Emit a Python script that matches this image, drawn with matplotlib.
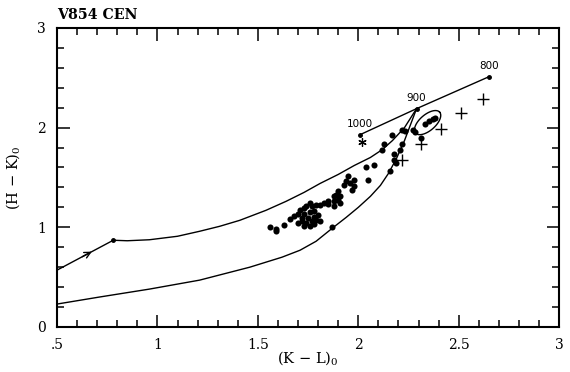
import numpy as np
import matplotlib
matplotlib.use("Agg")
import matplotlib.pyplot as plt
from matplotlib.ticker import MultipleLocator, FixedLocator, FixedFormatter

plt.rcParams['font.family'] = ['DejaVu Serif']
plt.rcParams['mathtext.fontset'] = 'dejavuserif'

# observed colours, (K-L)0 vs (H-K)0
obs_kl = [1.56, 1.59, 1.59, 1.63, 1.68, 1.70, 1.73, 1.74, 1.77, 1.79,
          1.73, 1.76, 1.78, 1.72, 1.74, 1.77, 1.79, 1.73, 1.76, 1.81,
          1.83, 1.85, 1.87, 1.88, 1.81, 1.85, 1.88, 1.88, 1.91, 1.89,
          1.90, 1.91, 1.93, 1.94, 1.96, 1.98, 1.98, 1.97, 1.95, 2.05,
          2.04, 2.08, 2.12, 2.13, 2.17, 2.22, 2.23, 2.27, 2.28, 2.22,
          2.21, 2.18, 2.18, 2.19, 2.16, 2.31, 2.33, 2.35, 2.37, 2.38,
          1.75, 1.78, 1.71, 1.76, 1.70, 1.90, 1.80, 1.66, 1.72, 1.78]
obs_hk = [1.00, 0.98, 0.96, 1.02, 1.11, 1.04, 1.19, 1.21, 1.21, 1.22,
          1.13, 1.15, 1.16, 1.06, 1.04, 1.06, 1.07, 1.01, 1.01, 1.06,
          1.24, 1.26, 1.00, 1.31, 1.22, 1.23, 1.26, 1.21, 1.24, 1.32,
          1.36, 1.31, 1.42, 1.46, 1.44, 1.47, 1.41, 1.37, 1.51, 1.47,
          1.60, 1.62, 1.78, 1.84, 1.93, 1.98, 1.97, 1.98, 1.96, 1.84,
          1.78, 1.74, 1.67, 1.64, 1.56, 1.90, 2.04, 2.07, 2.09, 2.10,
          1.09, 1.10, 1.17, 1.24, 1.13, 1.27, 1.12, 1.08, 1.09, 1.03]

# plus markers
plus_kl = [2.22, 2.31, 2.41, 2.51, 2.62]
plus_hk = [1.67, 1.84, 1.99, 2.15, 2.29]

# asterisk
star_kl = [2.02]
star_hk = [1.86]

# blackbody line with temperatures
bb_kl = [2.01, 2.29, 2.65]
bb_hk = [1.93, 2.19, 2.51]
bb_labels = ['1000', '900', '800']

# reddening vector (straight part with arrow)
red_kl = [0.5, 0.78]
red_hk = [0.57, 0.87]

# upper envelope curve
upper_kl = [0.78, 0.85, 0.96, 1.10, 1.21, 1.31, 1.41, 1.54, 1.64, 1.73,
            1.81, 1.90, 1.98, 2.06, 2.12, 2.17, 2.23, 2.29]
upper_hk = [0.87, 0.865, 0.875, 0.91, 0.96, 1.01, 1.07, 1.17, 1.26, 1.35,
            1.44, 1.53, 1.62, 1.70, 1.78, 1.87, 2.00, 2.19]

# lower envelope curve
lower_kl = [0.5, 0.71, 0.96, 1.21, 1.46, 1.62, 1.71, 1.79, 1.87, 1.94,
            2.00, 2.06, 2.11, 2.15, 2.19, 2.23, 2.26, 2.29]
lower_hk = [0.23, 0.30, 0.38, 0.47, 0.60, 0.70, 0.77, 0.86, 0.99, 1.10,
            1.20, 1.31, 1.42, 1.54, 1.69, 1.87, 2.03, 2.19]

# ellipse around the reddest points
ell_center = (2.345, 2.05)
ell_major = (0.060, 0.105)
ell_minor = (-0.026, 0.060)

xticks = [0.5, 1, 1.5, 2, 2.5, 3]
xticklabels = ['.5', '1', '1.5', '2', '2.5', '3']
yticks = [0, 1, 2, 3]
yticklabels = ['0', '1', '2', '3']

fig = plt.figure(figsize=(5.7, 3.72), dpi=100)
ax = fig.add_axes([0.1, 0.121, 0.881, 0.804])

lw = 1.0
ax.plot(red_kl, red_hk, color='black', lw=lw)
ax.plot(upper_kl, upper_hk, color='black', lw=lw)
ax.plot(lower_kl, lower_hk, color='black', lw=lw)
ax.plot(red_kl[1:], red_hk[1:], 'o', color='black', ms=2.5)

# arrow head on the reddening segment
f0, f1 = 0.45, 0.62
ax.annotate('', xy=(red_kl[0] + f1 * (red_kl[1] - red_kl[0]),
                    red_hk[0] + f1 * (red_hk[1] - red_hk[0])),
            xytext=(red_kl[0] + f0 * (red_kl[1] - red_kl[0]),
                    red_hk[0] + f0 * (red_hk[1] - red_hk[0])),
            arrowprops=dict(arrowstyle='->', lw=lw, color='black',
                            mutation_scale=11, shrinkA=0, shrinkB=0))

ax.plot(bb_kl, bb_hk, '-o', color='black', lw=lw, ms=2.5)
for x, y, s in zip(bb_kl, bb_hk, bb_labels):
    ax.annotate(s, (x, y), xytext=(0, 4), textcoords='offset points',
                ha='center', va='bottom', fontsize=7.5, family='DejaVu Sans')

t = np.linspace(0, 2 * np.pi, 120)
ex = ell_center[0] + np.cos(t) * ell_major[0] + np.sin(t) * ell_minor[0]
ey = ell_center[1] + np.cos(t) * ell_major[1] + np.sin(t) * ell_minor[1]
ax.plot(ex, ey, color='black', lw=lw)

ax.plot(obs_kl, obs_hk, 'o', color='black', ms=4.4, mew=0)
ax.plot(plus_kl, plus_hk, '+', color='black', ms=9, mew=1.0)
ax.plot(star_kl, star_hk, marker=(6, 2, 0), ls='none', color='black',
        ms=6, mew=0.9)

ax.set_xlim(0.5, 3)
ax.set_ylim(0, 3)
ax.xaxis.set_major_locator(FixedLocator(xticks))
ax.xaxis.set_major_formatter(FixedFormatter(xticklabels))
ax.yaxis.set_major_locator(FixedLocator(yticks))
ax.yaxis.set_major_formatter(FixedFormatter(yticklabels))
ax.xaxis.set_minor_locator(MultipleLocator(0.1))
ax.yaxis.set_minor_locator(MultipleLocator(0.2))
ax.tick_params(which='both', direction='in', top=True, right=True,
               width=1.1, labelsize=10)
ax.tick_params(which='major', length=9, pad=8)
ax.tick_params(which='minor', length=5)
for sp in ax.spines.values():
    sp.set_linewidth(1.5)

ax.set_xlabel('(K $-$ L)$_0$', fontsize=10.5, labelpad=-2)
ax.set_ylabel('(H $-$ K)$_0$', fontsize=10.5, labelpad=11)
ax.text(0.0, 1.02, 'V854 CEN', transform=ax.transAxes, ha='left',
        va='bottom', fontsize=10.2, fontweight='bold')

fig.savefig('out.png', dpi=100)
